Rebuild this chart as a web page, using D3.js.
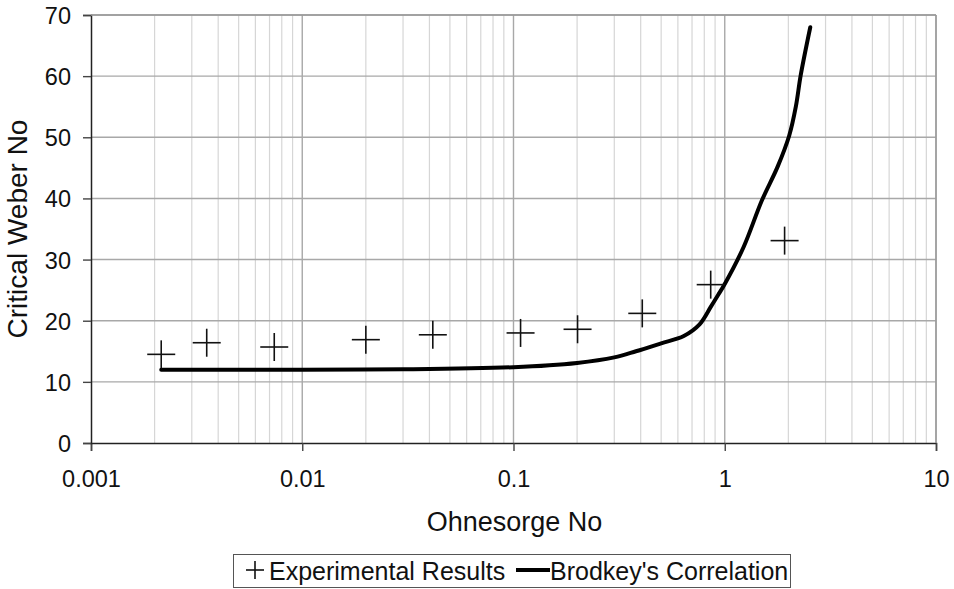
<!DOCTYPE html>
<html>
<head>
<meta charset="utf-8">
<script src="https://cdn.jsdelivr.net/npm/d3@7"></script>
<style>
  body { margin: 0; background: #fff; }
  svg { font-family: "Liberation Sans", Arial, sans-serif; }
</style>
</head>
<body>
<div id="chart"></div>
<script>
// data
const expOh = [0.00215, 0.00353, 0.00737, 0.0200, 0.0415, 0.108, 0.201, 0.407, 0.858, 1.92]
const expWe = [14.5, 16.4, 15.7, 16.9, 17.7, 18.0, 18.6, 21.2, 25.9, 33.1]

const corrOh = [0.00215, 0.01, 0.03, 0.1, 0.2, 0.3, 0.38, 0.5, 0.64, 0.76, 0.86, 0.93, 1.0, 1.23, 1.5, 1.78, 2.02, 2.17, 2.29, 2.54]
const corrWe = [12.0, 12.0, 12.05, 12.4, 13.1, 14.0, 15.0, 16.3, 17.5, 19.4, 22.3, 24.2, 26.0, 32.1, 39.7, 45.2, 50.3, 55.0, 60.2, 68.0]

const xTicks = [0.001, 0.01, 0.1, 1, 10]
const xTickLabels = ["0.001", "0.01", "0.1", "1", "10"]
const yTicks = [0, 10, 20, 30, 40, 50, 60, 70]

const seriesNames = ["Experimental Results", "Brodkey's Correlation"]
const xTitle = "Ohnesorge No"
const yTitle = "Critical Weber No"

// sizes
const width = 954
const height = 589
const margin = { left: 91, right: 18, top: 15, bottom: 146 }
const w = width - margin.left - margin.right
const h = height - margin.top - margin.bottom

const svg = d3.select("#chart").append("svg").attr("width", width).attr("height", height)
const g = svg.append("g").attr("transform", `translate(${margin.left}, ${margin.top})`)

const x = d3.scaleLog().domain([0.001, 10]).range([0, w])
const y = d3.scaleLinear().domain([0, 70]).range([h, 0])

// minor vertical grid 2..9 of each decade
const minor = []
for (let p = -3; p < 1; p++) {
  for (let k = 2; k <= 9; k++) minor.push(k * Math.pow(10, p))
}
g.append("g").selectAll("line").data(minor).enter().append("line")
  .attr("x1", d => x(d)).attr("x2", d => x(d))
  .attr("y1", 0).attr("y2", h)
  .attr("stroke", "#d6d6d6").attr("stroke-width", 1.2)

// major grid
g.append("g").selectAll("line").data(xTicks.slice(1)).enter().append("line")
  .attr("x1", d => x(d)).attr("x2", d => x(d))
  .attr("y1", 0).attr("y2", h)
  .attr("stroke", "#a8a8a8").attr("stroke-width", 1.4)
g.append("g").selectAll("line").data(yTicks.slice(1)).enter().append("line")
  .attr("x1", 0).attr("x2", w)
  .attr("y1", d => y(d)).attr("y2", d => y(d))
  .attr("stroke", "#a8a8a8").attr("stroke-width", 1.4)

// axes
const xAxis = d3.axisBottom(x).tickValues(xTicks).tickFormat((d, i) => xTickLabels[i]).tickSize(8).tickPadding(19)
const yAxis = d3.axisLeft(y).tickValues(yTicks).tickSize(8).tickPadding(12)

const xg = g.append("g").attr("transform", `translate(0, ${h})`).call(xAxis)
const yg = g.append("g").call(yAxis)
for (const a of [xg, yg]) {
  a.select(".domain").attr("stroke", "#222").attr("stroke-width", 1.5)
  a.selectAll(".tick line").attr("stroke", "#444").attr("stroke-width", 1.4)
  a.selectAll("text").attr("font-size", 23.5).attr("fill", "#111")
    .attr("font-family", "'Liberation Sans', Arial, sans-serif")
}
yg.selectAll("text").attr("dy", "0.36em")

// correlation line
const corr = corrOh.map((d, i) => ({ oh: d, we: corrWe[i] }))
g.append("path").datum(corr)
  .attr("fill", "none").attr("stroke", "#000").attr("stroke-width", 4)
  .attr("stroke-linejoin", "round").attr("stroke-linecap", "round")
  .attr("d", d3.line().x(d => x(d.oh)).y(d => y(d.we)).curve(d3.curveCatmullRom.alpha(0.5)))

// experimental points as plus marks
const pts = expOh.map((d, i) => ({ oh: d, we: expWe[i] }))
const pg = g.append("g").selectAll("g").data(pts).enter().append("g")
  .attr("transform", d => `translate(${x(d.oh)}, ${y(d.we)})`)
pg.append("line").attr("x1", -14).attr("x2", 14).attr("stroke", "#111").attr("stroke-width", 1.6)
pg.append("line").attr("y1", -14).attr("y2", 14).attr("stroke", "#111").attr("stroke-width", 1.6)

// plot border top/right
g.append("line").attr("x1", 0).attr("x2", w).attr("y1", 0).attr("y2", 0).attr("stroke", "#999").attr("stroke-width", 1.4)
g.append("line").attr("x1", w).attr("x2", w).attr("y1", 0).attr("y2", h).attr("stroke", "#999").attr("stroke-width", 1.4)

// titles
svg.append("text").attr("x", margin.left + w / 2 + 1).attr("y", 531)
  .attr("text-anchor", "middle").attr("font-size", 27).attr("fill", "#111").text(xTitle)
svg.append("text").attr("transform", "translate(27, 229) rotate(-90)")
  .attr("text-anchor", "middle").attr("font-size", 28).attr("fill", "#111").text(yTitle)

// legend
const lg = svg.append("g")
lg.append("rect").attr("x", 233.5).attr("y", 554.5).attr("width", 557).attr("height", 33)
  .attr("fill", "#fff").attr("stroke", "#555").attr("stroke-width", 1)
lg.append("line").attr("x1", 246).attr("x2", 264).attr("y1", 570).attr("y2", 570).attr("stroke", "#111").attr("stroke-width", 1.6)
lg.append("line").attr("x1", 255).attr("x2", 255).attr("y1", 561).attr("y2", 579).attr("stroke", "#111").attr("stroke-width", 1.6)
lg.append("text").attr("x", 269).attr("y", 580).attr("font-size", 25).attr("fill", "#111").text(seriesNames[0])
lg.append("line").attr("x1", 516).attr("x2", 550).attr("y1", 570).attr("y2", 570).attr("stroke", "#000").attr("stroke-width", 4)
lg.append("text").attr("x", 550).attr("y", 580).attr("font-size", 25).attr("fill", "#111").text(seriesNames[1])
</script>
</body>
</html>
